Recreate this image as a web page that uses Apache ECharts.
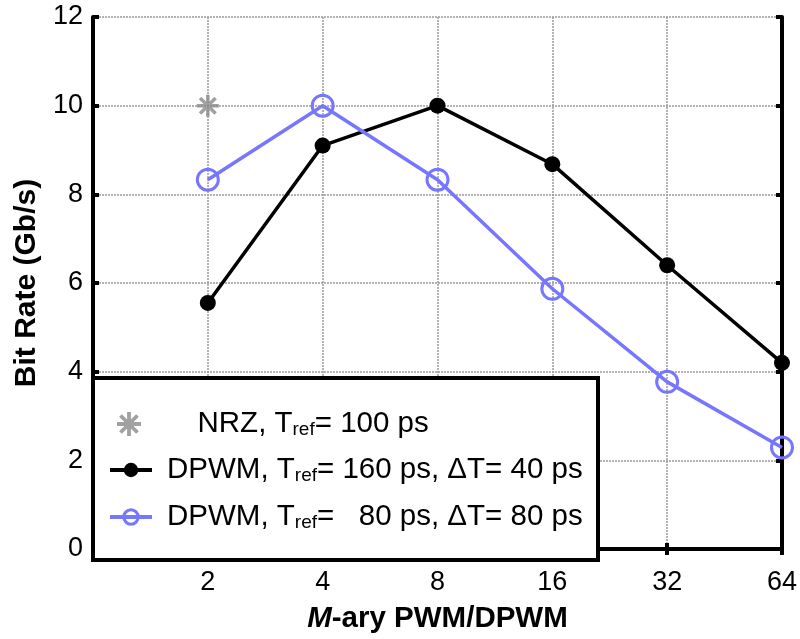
<!DOCTYPE html>
<html>
<head>
<meta charset="utf-8">
<script src="https://cdn.jsdelivr.net/npm/echarts@6/dist/echarts.min.js"></script>
<style>
html,body{margin:0;padding:0;background:#fff;}
#c{width:800px;height:639px;}
</style>
</head>
<body>
<div id="c"></div>
<script>
var mAry = [2, 4, 8, 16, 32, 64];
var nrzRate = [10.0];
var dpwm160 = [5.55, 9.1, 10.0, 8.68, 6.4, 4.2];
var dpwm80 = [8.33, 10.0, 8.33, 5.87, 3.77, 2.29];
var yTicks = [0, 2, 4, 6, 8, 10, 12];

var FONT = 'Liberation Sans, Arial, Helvetica, sans-serif';
var asterisk = 'path://M-1.6,-10L1.6,-10L1.6,10L-1.6,10Z M-10,-1.6L10,-1.6L10,1.6L-10,1.6Z M-5.94,-8.2L8.2,5.94L5.94,8.2L-8.2,-5.94Z M-8.2,5.94L5.94,-8.2L8.2,-5.94L-5.94,8.2Z';

function pairs(xs, ys) { return ys.map(function (v, i) { return [xs[i], v]; }); }

var chart = echarts.init(document.getElementById('c'), null, {renderer: 'canvas'});
var gridLine = {show: true, lineStyle: {color: '#9a9a9a', width: 1.5, type: [2, 1]}};
var axisLineStyle = {show: true, lineStyle: {color: '#000', width: 4}};
var tick = {show: true, inside: true, length: 6, lineStyle: {color: '#000', width: 4}};
var BLUE = '#7676ff';

var richStyles = {
  f: {fontSize: 29.5, fontFamily: FONT, color: '#000', lineHeight: 30, padding: [0, 0, 0, 10]},
  n: {fontSize: 29.5, fontFamily: FONT, color: '#000', lineHeight: 30, padding: [0, 0, 0, 51]},
  a: {fontSize: 29.5, fontFamily: FONT, color: '#000', lineHeight: 30},
  s: {fontSize: 19, fontFamily: FONT, color: '#000', lineHeight: 14, verticalAlign: 'bottom'}
};
function legendLabel(name) {
  if (name === 'nrz') return '{n|NRZ, T}{s|ref}{a|= 100 ps}';
  if (name === 'd160') return '{f|DPWM, T}{s|ref}{a|= 160 ps, ΔT= 40 ps}';
  return '{f|DPWM, T}{s|ref}{a|=   80 ps, ΔT= 80 ps}';
}

chart.setOption({
  animation: false,
  backgroundColor: '#fff',
  grid: {left: 93, right: 16, top: 17, bottom: 79, containLabel: false},
  xAxis: [{
    type: 'log', logBase: 2, min: 1, max: 64,
    axisLine: axisLineStyle, axisTick: tick, splitLine: gridLine,
    axisLabel: {fontSize: 27, fontFamily: FONT, color: '#000', margin: 20,
      formatter: function (v) { return v === 1 ? '' : String(Math.round(v)); }},
    name: '{i|M}{b|-ary PWM/DPWM}', nameLocation: 'middle', nameGap: 55,
    nameTextStyle: {rich: {
      i: {fontSize: 29.5, fontWeight: 'bold', fontStyle: 'italic', fontFamily: FONT, color: '#000'},
      b: {fontSize: 29.5, fontWeight: 'bold', fontFamily: FONT, color: '#000'}
    }}
  }, {
    type: 'log', logBase: 2, min: 1, max: 64, position: 'top',
    axisLine: axisLineStyle, axisTick: tick, splitLine: {show: false},
    axisLabel: {show: false}
  }],
  yAxis: [{
    type: 'value', min: 0, max: 12, interval: 2,
    axisLine: axisLineStyle, axisTick: tick, splitLine: gridLine,
    axisLabel: {fontSize: 27, fontFamily: FONT, color: '#000', margin: 10,
      formatter: function (v) { return yTicks.indexOf(v) >= 0 ? String(v) : ''; }},
    name: 'Bit Rate (Gb/s)', nameLocation: 'middle', nameGap: 51, nameRotate: 90,
    nameTextStyle: {fontSize: 30, fontWeight: 'bold', fontFamily: FONT, color: '#000'}
  }, {
    type: 'value', min: 0, max: 12, interval: 2, position: 'right',
    axisLine: axisLineStyle, axisTick: tick, splitLine: {show: false},
    axisLabel: {show: false}
  }],
  graphic: [{
    type: 'rect', z: 3,
    shape: {x: 93, y: 378, width: 505, height: 182},
    style: {fill: '#fff', stroke: '#000', lineWidth: 4}
  }],
  legend: [{
    orient: 'vertical', left: 117, top: 409, padding: 0, z: 5,
    itemWidth: 25, itemHeight: 24,
    data: ['nrz'],
    formatter: legendLabel,
    textStyle: {rich: richStyles}
  }, {
    orient: 'vertical', left: 108, top: 455, padding: 0, z: 5,
    itemWidth: 42, itemHeight: 18, itemGap: 17,
    lineStyle: {width: 4},
    data: ['d160', {name: 'd80', itemStyle: {borderWidth: 3, color: 'transparent', borderColor: BLUE}}],
    formatter: legendLabel,
    textStyle: {rich: richStyles}
  }],
  series: [{
    name: 'nrz', type: 'scatter', z: 4,
    data: pairs(mAry, nrzRate),
    symbol: asterisk, symbolSize: 22, symbolKeepAspect: true,
    itemStyle: {color: '#8a8a8a'}
  }, {
    name: 'd160', type: 'line', z: 2,
    data: pairs(mAry, dpwm160),
    symbol: 'circle', symbolSize: 16,
    lineStyle: {color: '#000', width: 3.5},
    itemStyle: {color: '#000', borderWidth: 0}
  }, {
    name: 'd80', type: 'line', z: 2,
    data: pairs(mAry, dpwm80),
    symbol: 'circle', symbolSize: 21,
    lineStyle: {color: BLUE, width: 3.5},
    itemStyle: {color: 'transparent', borderColor: BLUE, borderWidth: 3}
  }]
});
</script>
</body>
</html>
